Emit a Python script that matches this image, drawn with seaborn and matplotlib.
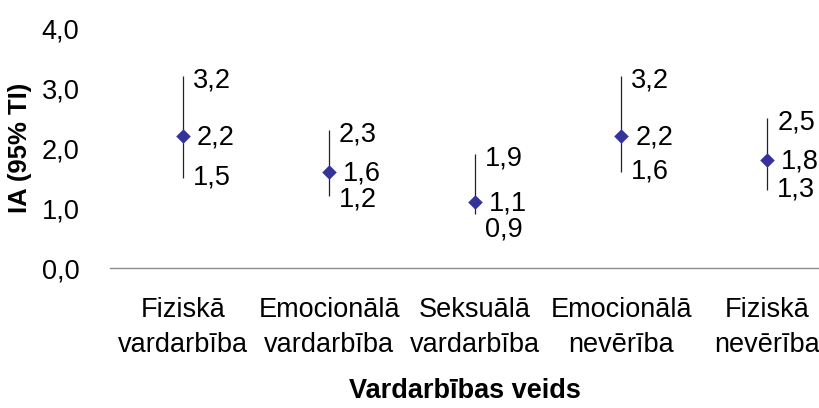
import numpy as np
import pandas as pd
import matplotlib
matplotlib.use('Agg')
import matplotlib.pyplot as plt
import seaborn as sns

categories = ['Fiziskā\nvardarbība', 'Emocionālā\nvardarbība', 'Seksuālā\nvardarbība',
              'Emocionālā\nnevērība', 'Fiziskā\nnevērība']
ia_mean = [2.2, 1.6, 1.1, 2.2, 1.8]
ia_low = [1.5, 1.2, 0.9, 1.6, 1.3]
ia_high = [3.2, 2.3, 1.9, 3.2, 2.5]
y_ticks = [0.0, 1.0, 2.0, 3.0, 4.0]

sns.set_theme(style='white')
plt.rcParams['font.family'] = ['Liberation Sans', 'DejaVu Sans']
plt.rcParams['text.color'] = 'black'
plt.rcParams['axes.labelcolor'] = 'black'
plt.rcParams['xtick.color'] = 'black'
plt.rcParams['ytick.color'] = 'black'

FS = 19.5

df = pd.DataFrame({'pos': np.arange(len(categories)), 'mean': ia_mean,
                   'low': ia_low, 'high': ia_high})


def fmt(v):
    return f"{v:.1f}".replace('.', ',')


fig = plt.figure(figsize=(8.2, 4.08), dpi=100)
ax = fig.add_axes([110 / 820, 1 - 268 / 408, 710 / 820, 240 / 408])

ax.vlines(df['pos'], df['low'], df['high'], color='#222222', linewidth=0.9, zorder=2)
sns.scatterplot(data=df, x='pos', y='mean', marker='D', s=55, color='#333399',
                edgecolor='#333399', linewidth=0, zorder=3, ax=ax)

for _, r in df.iterrows():
    ax.annotate(fmt(r['high']), (r['pos'], r['high']), xytext=(7, -3.5),
                textcoords='offset points', ha='left', va='center', fontsize=FS)
    ax.annotate(fmt(r['mean']), (r['pos'], r['mean']), xytext=(10, -1),
                textcoords='offset points', ha='left', va='center', fontsize=FS)
    # push the lower label down when it would overlap the mean label
    gap_px = (r['mean'] - r['low']) * 60
    dy = 0 if gap_px >= 28 else -(28 - gap_px) * 0.72
    ax.annotate(fmt(r['low']), (r['pos'], r['low']), xytext=(7, dy),
                textcoords='offset points', ha='left', va='center', fontsize=FS)

ax.set_xlim(-0.5, 4.36)
ax.set_ylim(0, 4.0)
ax.set_yticks(y_ticks)
ax.set_yticklabels([fmt(v) for v in y_ticks], fontsize=FS)
ax.set_xticks(df['pos'])
ax.set_xticklabels(categories, fontsize=FS, linespacing=1.45)
ax.tick_params(axis='y', length=0, pad=22)
ax.tick_params(axis='x', length=0, pad=21)

for s in ['top', 'right', 'left']:
    ax.spines[s].set_visible(False)
ax.spines['bottom'].set_color('#8c8c8c')
ax.spines['bottom'].set_linewidth(1.0)

ax.set_xlabel('Vardarbības veids', fontsize=FS, fontweight='bold', labelpad=14)
ax.set_ylabel('IA (95% TI)', fontsize=18.5, fontweight='bold')
ax.yaxis.set_label_coords(-0.11, 0.5)

fig.savefig('out.png', dpi=100)
